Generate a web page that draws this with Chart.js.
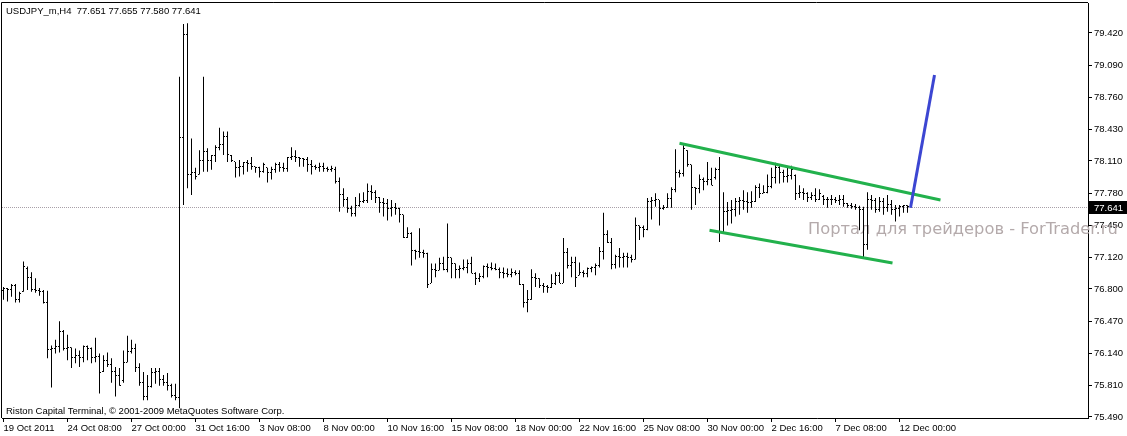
<!DOCTYPE html>
<html><head><meta charset="utf-8">
<script src="https://cdn.jsdelivr.net/npm/chart.js@4.4.1/dist/chart.umd.min.js"></script>
<style>html,body{margin:0;padding:0;background:#fff;}#wrap{position:relative;width:1127px;height:436px;}</style>
</head><body><div id="wrap"><canvas id="c"></canvas></div>
<script>
const symbolTitle = 'USDJPY_m,H4  77.651 77.655 77.580 77.641';
const copyright = 'Riston Capital Terminal, \u00A9 2001-2009 MetaQuotes Software Corp.';
const watermark = 'Портал для трейдеров - ForTrader.ru';
const lastPrice = 77.641;

const xTickBars = [0,16,32,48,64,80,96,112,128,144,160,176,192,208,224];
const xTickLabels = ['19 Oct 2011','24 Oct 08:00','27 Oct 00:00','31 Oct 16:00','3 Nov 08:00','8 Nov 00:00','10 Nov 16:00','15 Nov 08:00','18 Nov 00:00','22 Nov 16:00','25 Nov 08:00','30 Nov 00:00','2 Dec 16:00','7 Dec 08:00','12 Dec 00:00'];
const yTickValues = [79.42,79.09,78.76,78.43,78.11,77.78,77.45,77.12,76.80,76.47,76.14,75.81,75.49];

const opens = [
76.78,76.80,76.79,76.84,76.69,76.77,77.01,76.92,76.79,76.78,
76.77,76.66,76.18,76.19,76.21,76.36,76.19,76.20,76.10,76.12,
76.10,76.21,76.19,76.10,76.11,75.95,76.07,76.03,75.95,75.91,
75.86,76.05,76.16,76.19,76.00,75.84,75.70,75.80,75.94,75.95,
75.87,75.84,75.81,75.71,75.69,78.35,79.40,77.97,77.99,77.97,
78.11,78.21,78.11,78.17,78.25,78.28,78.36,78.17,78.10,78.04,
78.05,78.09,78.08,78.05,78.04,78.00,78.04,77.99,78.02,78.07,
78.04,78.03,78.15,78.16,78.14,78.13,78.12,78.07,78.05,78.04,
78.05,78.03,78.02,78.02,77.90,77.77,77.72,77.62,77.57,77.65,
77.69,77.70,77.80,77.79,77.74,77.68,77.67,77.62,77.63,77.62,
77.56,77.33,77.37,77.19,77.18,77.17,77.16,76.86,77.00,76.99,
77.06,77.00,77.12,77.06,77.00,77.01,77.02,77.06,76.96,76.91,
76.93,77.03,77.02,77.01,77.00,76.97,76.96,76.95,76.97,76.96,
76.85,76.66,76.69,76.92,76.91,76.84,76.82,76.81,76.86,76.94,
76.86,77.17,77.04,77.07,76.94,76.97,76.96,77.01,77.02,77.04,
77.18,77.36,77.28,77.05,77.13,77.12,77.13,77.12,77.10,77.45,
77.43,77.41,77.69,77.70,77.71,77.62,77.63,77.73,77.82,77.99,
77.98,78.22,78.07,77.84,77.83,77.92,77.90,77.92,77.94,78.02,
77.38,77.59,77.60,77.61,77.69,77.70,77.69,77.68,77.69,77.84,
77.78,77.79,77.85,77.94,78.04,77.99,77.95,77.96,77.96,77.78,
77.79,77.78,77.74,77.76,77.71,77.75,77.71,77.72,77.71,77.70,
77.71,77.67,77.65,77.64,77.63,77.61,77.25,77.71,77.70,77.61,
77.69,77.63,77.66,77.61,77.62,77.64,77.651];
const highs = [
76.82,76.81,76.85,76.85,76.77,77.08,77.03,76.97,76.91,76.81,
76.79,76.78,76.22,76.28,76.47,76.38,76.33,76.20,76.19,76.17,
76.22,76.22,76.20,76.30,76.14,76.12,76.15,76.09,76.00,75.99,
76.17,76.32,76.28,76.24,76.04,75.95,75.92,75.99,75.99,75.99,
75.92,75.94,75.83,75.83,78.97,79.51,79.52,78.34,78.04,78.22,
78.97,78.24,78.17,78.27,78.45,78.41,78.41,78.17,78.10,78.12,
78.10,78.12,78.15,78.05,78.05,78.09,78.04,78.05,78.09,78.10,
78.09,78.15,78.25,78.22,78.15,78.14,78.15,78.12,78.07,78.09,
78.09,78.05,78.06,78.05,77.94,77.83,77.74,77.65,77.74,77.78,
77.79,77.88,77.86,77.81,77.74,77.73,77.72,77.71,77.68,77.63,
77.56,77.43,77.38,77.20,77.42,77.20,77.17,77.06,77.06,77.12,
77.13,77.47,77.12,77.06,77.04,77.10,77.10,77.13,76.97,76.96,
77.04,77.06,77.07,77.06,77.02,77.02,77.01,77.01,76.99,76.99,
76.85,76.79,77.00,76.96,76.91,76.86,76.84,76.95,76.97,76.97,
77.32,77.22,77.13,77.13,77.07,76.99,77.02,77.03,77.06,77.23,
77.58,77.40,77.32,77.15,77.22,77.17,77.17,77.15,77.53,77.45,
77.45,77.73,77.74,77.78,77.71,77.66,77.78,77.84,78.23,78.02,
78.27,78.22,78.07,77.84,77.97,77.94,78.10,78.04,78.04,78.15,
77.79,77.69,77.71,77.73,77.74,77.81,77.79,77.80,77.86,77.88,
77.86,77.97,78.04,78.09,78.07,78.02,78.04,78.06,77.97,77.86,
77.83,77.79,77.79,77.83,77.82,77.76,77.74,77.76,77.74,77.76,
77.76,77.68,77.68,77.67,77.65,77.64,77.79,77.76,77.73,77.74,
77.73,77.76,77.71,77.66,77.66,77.66,77.655];
const lows = [
76.69,76.67,76.72,76.66,76.66,76.77,76.79,76.77,76.76,76.73,
76.65,76.09,75.79,76.14,76.15,76.17,76.07,75.99,76.04,76.00,
76.05,76.07,76.04,76.05,75.73,75.95,76.00,75.84,75.70,75.81,
75.84,76.05,76.14,75.95,75.81,75.66,75.66,75.79,75.83,75.81,
75.81,75.76,75.69,75.66,75.58,77.66,77.83,77.76,77.92,77.97,
78.00,78.00,78.02,78.10,78.22,78.17,78.10,78.10,77.94,77.95,
77.97,78.00,78.02,77.99,77.94,77.99,77.89,77.92,77.99,78.00,
78.00,78.00,78.12,78.10,78.05,78.05,78.00,77.97,78.02,78.00,
78.00,78.00,78.00,77.88,77.59,77.64,77.58,77.54,77.54,77.64,
77.68,77.68,77.71,77.68,77.58,77.54,77.50,77.54,77.56,77.48,
77.32,77.32,77.04,77.10,77.12,77.12,76.81,76.86,76.92,76.99,
76.99,76.97,76.91,76.91,76.91,76.99,76.96,76.96,76.84,76.87,
76.91,76.92,76.99,76.99,76.91,76.91,76.92,76.92,76.94,76.84,
76.61,76.56,76.69,76.82,76.81,76.76,76.76,76.81,76.84,76.86,
76.86,77.01,76.92,76.82,76.94,76.92,76.92,76.97,76.94,77.02,
77.10,77.27,77.00,77.01,77.02,77.02,77.02,77.07,77.10,77.30,
77.33,77.40,77.51,77.64,77.45,77.61,77.63,77.63,77.79,77.94,
77.95,78.05,77.61,77.66,77.78,77.81,77.86,77.86,77.92,77.28,
77.38,77.45,77.47,77.54,77.56,77.61,77.58,77.63,77.69,77.73,
77.78,77.78,77.83,77.88,77.88,77.89,77.89,77.92,77.71,77.73,
77.71,77.69,77.71,77.69,77.71,77.66,77.63,77.66,77.68,77.66,
77.64,77.63,77.62,77.61,77.40,77.12,77.20,77.61,77.58,77.59,
77.56,77.59,77.56,77.49,77.54,77.58,77.580];
const closes = [
76.80,76.79,76.84,76.69,76.75,77.03,76.92,76.79,76.78,76.77,
76.66,76.18,76.19,76.21,76.36,76.19,76.20,76.10,76.12,76.10,
76.21,76.19,76.10,76.11,75.94,76.07,76.03,75.95,75.91,75.81,
76.05,76.16,76.19,76.00,75.84,75.70,75.80,75.94,75.95,75.87,
75.84,75.81,75.71,75.69,78.35,79.40,77.97,77.99,77.95,78.11,
78.21,78.11,78.17,78.25,78.28,78.36,78.18,78.11,78.04,78.05,
78.09,78.08,78.05,78.04,78.00,78.07,77.99,78.02,78.07,78.04,
78.03,78.15,78.16,78.14,78.13,78.12,78.07,78.05,78.04,78.05,
78.03,78.02,78.03,77.90,77.77,77.72,77.62,77.57,77.65,77.69,
77.70,77.80,77.79,77.74,77.68,77.67,77.62,77.63,77.62,77.56,
77.33,77.37,77.19,77.18,77.17,77.16,76.85,77.00,76.99,77.06,
77.00,77.12,77.06,77.00,77.01,77.02,77.06,76.96,76.91,76.93,
77.03,77.02,77.01,77.00,76.97,76.96,76.95,76.97,76.96,76.85,
76.66,76.69,76.92,76.91,76.84,76.82,76.81,76.86,76.94,76.86,
77.17,77.04,77.07,76.92,76.97,76.96,77.01,77.02,77.04,77.18,
77.36,77.28,77.05,77.13,77.12,77.13,77.12,77.10,77.45,77.43,
77.41,77.69,77.70,77.71,77.62,77.63,77.73,77.82,77.99,77.98,
78.24,78.07,77.84,77.83,77.92,77.90,77.92,77.86,78.02,77.38,
77.59,77.60,77.61,77.69,77.70,77.69,77.68,77.69,77.84,77.78,
77.79,77.85,77.94,78.04,77.99,77.95,77.96,78.02,77.78,77.79,
77.78,77.74,77.76,77.71,77.78,77.71,77.72,77.71,77.70,77.71,
77.67,77.65,77.64,77.63,77.61,77.25,77.71,77.70,77.61,77.69,
77.63,77.66,77.61,77.62,77.64,77.65,77.641];

// drawn trend objects (bar index, price)
const upperChannel = [{x:169, y:78.29}, {x:234.25, y:77.71}];
const lowerChannel = [{x:176.5, y:77.40}, {x:222.25, y:77.065}];
const breakoutArrow = [{x:226.75, y:77.63}, {x:232.75, y:78.99}];

const FONT = "'Liberation Sans', Arial, sans-serif";
const FSIZE = 9.5;

const rangeData = highs.map((h, i) => ({x: i, y: [lows[i], h]}));

const bgPlugin = {
  id: 'mtFrame',
  beforeDraw(chart) {
    const ctx = chart.ctx;
    ctx.save(); ctx.fillStyle = '#fff'; ctx.fillRect(0, 0, chart.width, chart.height); ctx.restore();
  },
  beforeDatasetsDraw(chart) {
    const {ctx, chartArea: a, scales: {y}} = chart;
    ctx.save();
    // watermark, fitted to its span in the reference
    ctx.font = '16px "DejaVu Sans", sans-serif';
    const w = ctx.measureText(watermark).width;
    ctx.font = (16 * 310 / w).toFixed(2) + 'px "DejaVu Sans", sans-serif';
    ctx.fillStyle = 'rgb(180,170,171)';
    ctx.textBaseline = 'alphabetic';
    ctx.fillText(watermark, 808, 234);
    // last price dotted line
    const py = Math.round(y.getPixelForValue(lastPrice)) + 0.5;
    ctx.strokeStyle = '#a8a0a8'; ctx.lineWidth = 1; ctx.setLineDash([1, 1]);
    ctx.beginPath(); ctx.moveTo(a.left, py); ctx.lineTo(a.right, py); ctx.stroke();
    ctx.restore();
  },
  afterDatasetDraw(chart, args) {
    if (args.index !== 3) return;
    const {ctx, scales: {x, y}} = chart;
    ctx.save(); ctx.fillStyle = '#000';
    for (let i = 0; i < opens.length; i++) {
      const px = x.getPixelForValue(i);
      ctx.fillRect(px - 1.5, Math.floor(y.getPixelForValue(opens[i])), 1, 1);
      ctx.fillRect(px + 0.5, Math.floor(y.getPixelForValue(closes[i])), 1, 1);
    }
    ctx.restore();
  },
  afterDraw(chart) {
    const {ctx, chartArea: a, scales: {y}} = chart;
    ctx.save();
    ctx.strokeStyle = '#000'; ctx.lineWidth = 1; ctx.setLineDash([]);
    ctx.beginPath();
    ctx.moveTo(a.left - 0.5, a.bottom); ctx.lineTo(a.left - 0.5, a.top - 0.5); ctx.lineTo(a.right, a.top - 0.5);
    ctx.stroke();
    ctx.font = FSIZE + 'px ' + FONT;
    ctx.fillStyle = '#000';
    ctx.textBaseline = 'alphabetic';
    ctx.fillText(symbolTitle, 6, 14);
    ctx.fillText(copyright, 6, 414);
    // last price label box
    const py = Math.round(y.getPixelForValue(lastPrice));
    ctx.fillStyle = '#000';
    ctx.fillRect(a.right + 1, py - 6, chart.width - a.right - 1, 13);
    ctx.fillStyle = '#fff';
    ctx.textBaseline = 'middle';
    ctx.fillText(lastPrice.toFixed(3), a.right + 6, py + 1);
    ctx.restore();
  }
};

new Chart(document.getElementById('c'), {
  data: {
    datasets: [
      {type: 'line', data: breakoutArrow, borderColor: '#3c46d2', borderWidth: 3, pointRadius: 0, borderCapStyle: 'butt'},
      {type: 'line', data: upperChannel, borderColor: '#22b14c', borderWidth: 3, pointRadius: 0},
      {type: 'line', data: lowerChannel, borderColor: '#22b14c', borderWidth: 3, pointRadius: 0},
      {type: 'bar', data: rangeData, backgroundColor: '#000', borderWidth: 0, barThickness: 1, inflateAmount: 0, grouped: false}
    ]
  },
  options: {
    responsive: true, maintainAspectRatio: false, animation: false, events: [],
    layout: {padding: {left: 2, top: 3, right: 0, bottom: 0}, autoPadding: false},
    plugins: {legend: {display: false}, tooltip: {enabled: false}, title: {display: false}},
    scales: {
      x: {
        type: 'linear', offset: false, bounds: 'data', min: -0.375, max: 271.125,
        afterBuildTicks: s => { s.ticks = xTickBars.map(v => ({value: v})); },
        afterFit: s => { s.height = 18; s.paddingLeft = 0; s.paddingRight = 0; },
        grid: {offset: false, drawOnChartArea: false, drawTicks: true, tickLength: 4, color: '#000', tickColor: '#000'},
        border: {display: true, color: '#000', width: 1},
        ticks: {align: 'start', padding: 1, maxRotation: 0, autoSkip: false, color: '#000',
          font: {family: FONT, size: FSIZE}, callback: (v, i) => xTickLabels[i]}
      },
      y: {
        type: 'linear', position: 'right', offset: false, bounds: 'data', beginAtZero: false, min: 75.479, max: 79.726,
        afterBuildTicks: s => { s.ticks = yTickValues.map(v => ({value: v})); },
        afterFit: s => { s.width = 39; s.paddingTop = 0; s.paddingBottom = 0; },
        grid: {drawOnChartArea: false, drawTicks: true, tickLength: 4, color: '#000', tickColor: '#000'},
        border: {display: true, color: '#000', width: 1},
        ticks: {padding: 2, autoSkip: false, color: '#000', font: {family: FONT, size: FSIZE},
          callback: v => Number(v).toFixed(3)}
      }
    }
  },
  plugins: [bgPlugin]
});
</script></body></html>
